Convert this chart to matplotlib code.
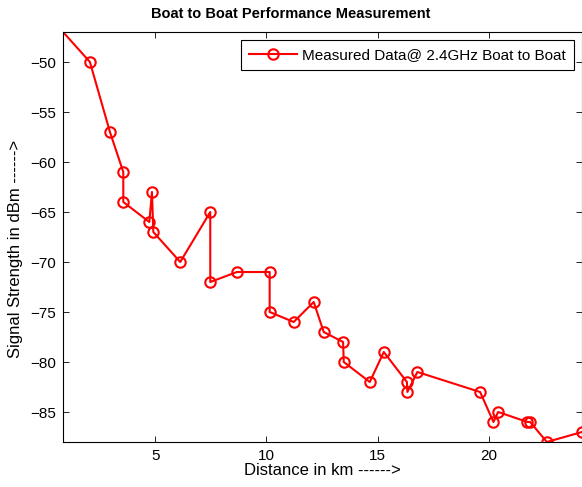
import matplotlib
matplotlib.use("Agg")
import matplotlib.pyplot as plt

plt.rcParams['font.family'] = ['Liberation Sans', 'DejaVu Sans']

distance_km = [0.5, 2.07, 2.97, 3.57, 3.57, 4.74, 4.86, 4.92, 6.13, 7.48, 7.48,
               8.68, 10.15, 10.15, 11.23, 12.13, 12.58, 13.45, 13.48, 14.65,
               15.28, 16.32, 16.34, 16.79, 19.61, 20.21, 20.42, 21.74, 21.86,
               22.61, 24.19]
signal_dbm = [-46.1, -50, -57, -61, -64, -66, -63, -67, -70, -65, -72,
              -71, -71, -75, -76, -74, -77, -78, -80, -82,
              -79, -82, -83, -81, -83, -86, -85, -86, -86,
              -88, -87]

x_limits = [0.86, 24.19]
y_limits = [-88, -47]
x_ticks = [5, 10, 15, 20]
y_ticks = [-85, -80, -75, -70, -65, -60, -55, -50]

fs = 11
fig = plt.figure(figsize=(5.82, 4.87), dpi=100)
ax = fig.add_axes([63/582, 45/487, 519/582, 410/487])

ax.plot(distance_km, signal_dbm, color='#ff0000', lw=1.5, marker='o',
        markersize=7.5, markerfacecolor='none', markeredgewidth=1.5,
        label='Measured Data@ 2.4GHz Boat to Boat')

ax.set_xlim(x_limits)
ax.set_ylim(y_limits)
ax.set_xticks(x_ticks)
ax.set_yticks(y_ticks)
ax.tick_params(direction='in', top=True, right=True, labelsize=fs, length=4, width=0.6, pad=5)
for s in ax.spines.values():
    s.set_linewidth(0.8)

fig.text(0.5, 1 - 14/487, 'Boat to Boat Performance Measurement', fontsize=10.5,
         fontweight='bold', ha='center', va='center')
ax.set_xlabel('Distance in km ------>', fontsize=12, labelpad=0)
ax.set_ylabel('Signal Strength in dBm ------>', fontsize=12, labelpad=5)
ax.yaxis.label.set_y(0.47)

leg = ax.legend(loc='upper right', fontsize=fs, fancybox=False, edgecolor='black',
                framealpha=1, borderaxespad=0.5, handlelength=3.1,
                borderpad=0.55, handletextpad=0.35)
leg.get_frame().set_linewidth(0.8)

fig.savefig('out.png', dpi=100)
